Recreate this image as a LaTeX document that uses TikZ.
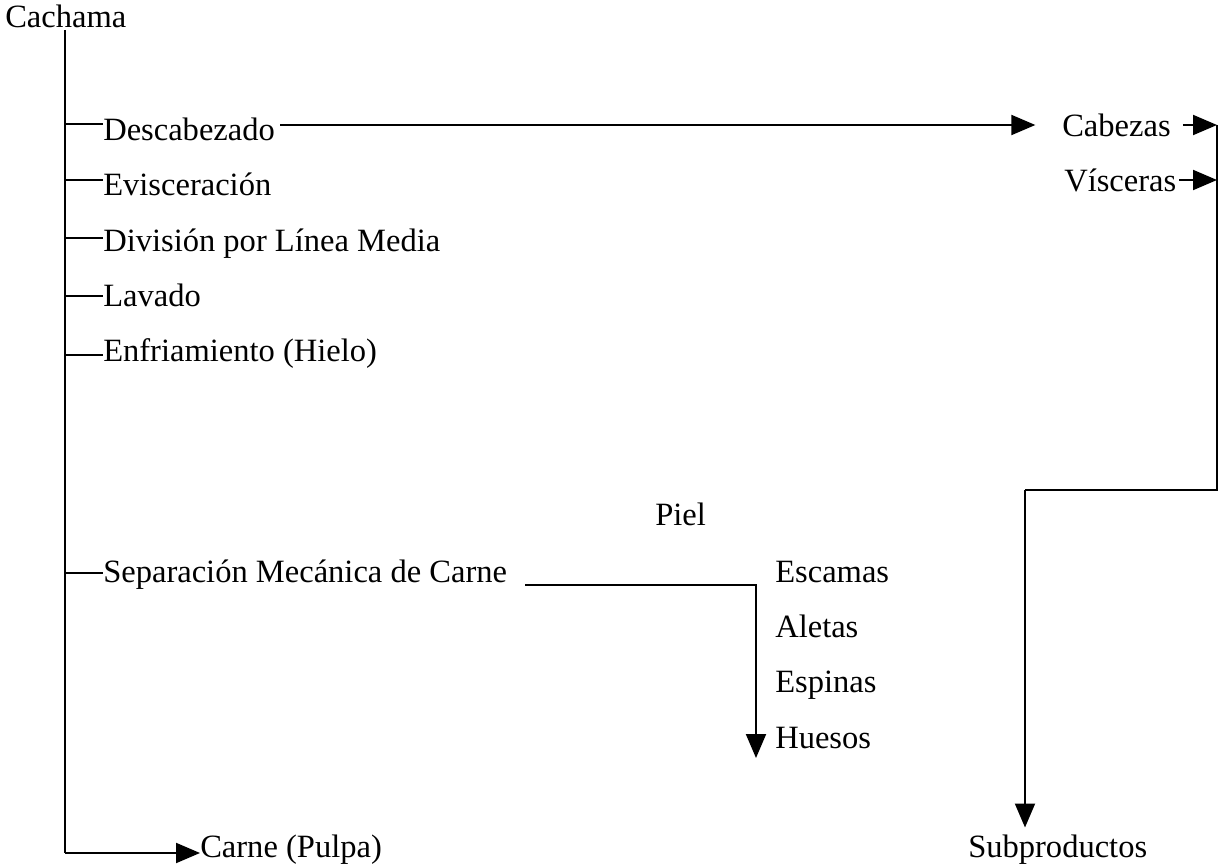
\documentclass[tikz,border=0pt]{standalone}
\usepackage{fontspec}
\setmainfont{Liberation Serif}
\usepackage{tikz}
\usetikzlibrary{arrows.meta}

\tikzset{
  lbl/.style={anchor=base west,inner sep=0pt,font=\fontsize{24.4pt}{29pt}\selectfont},
  ln/.style={line width=1.5pt},
  tip/.style={ln,-{Triangle[length=18pt,width=15pt]}}
}

\begin{document}
\begin{tikzpicture}[x=0.75pt,y=0.75pt,yscale=-1,xscale=1]
\useasboundingbox (0,0) rectangle (1225,867);

% Text Node
\node[lbl] (cach) at (5,28) {Cachama};
% Text Node
\node[lbl] (desc) at (103,140) {Descabezado};
% Text Node
\node[lbl] (evis) at (103,195) {Evisceración};
% Text Node
\node[lbl] (divi) at (103,251) {División por Línea Media};
% Text Node
\node[lbl] (lava) at (103,306) {Lavado};
% Text Node
\node[lbl] (enfr) at (103,361) {Enfriamiento (Hielo)};
% Text Node
\node[lbl] (sepa) at (103,582) {Separación Mecánica de Carne};
% Text Node
\node[lbl] (carn) at (200,857) {Carne (Pulpa)};
% Text Node
\node[lbl] (cabe) at (1062,137) {Cabezas};
% Text Node
\node[lbl] (visc) at (1064,191) {Vísceras};
% Text Node
\node[lbl] (piel) at (655,525) {Piel};
% Text Node
\node[lbl] (esca) at (775,582) {Escamas};
% Text Node
\node[lbl] (alet) at (775,637) {Aletas};
% Text Node
\node[lbl] (espi) at (775,692) {Espinas};
% Text Node
\node[lbl] (hues) at (775,748) {Huesos};
% Text Node
\node[lbl] (subp) at (968,857) {Subproductos};

%Points
\coordinate (top) at (65,30);
\coordinate (t1) at (65,124);
\coordinate (t2) at (65,180);
\coordinate (t3) at (65,238);
\coordinate (t4) at (65,296);
\coordinate (t5) at (65,355);
\coordinate (t6) at (65,573);
\coordinate (bot) at (65,853);
\coordinate (s1) at (525,585);
\coordinate (s2) at (756,585);
\coordinate (s3) at (756,758);
\coordinate (r1) at (1217,125);
\coordinate (r2) at (1217,490);
\coordinate (r3) at (1025,490);

%Straight Lines
\draw[ln] (top) -- (bot);
\draw[tip] (bot) -- (bot -| carn.west);
\draw[ln] (t1) -- (t1 -| desc.west);
\draw[ln] (t2) -- (t2 -| evis.west);
\draw[ln] (t3) -- (t3 -| divi.west);
\draw[ln] (t4) -- (t4 -| lava.west);
\draw[ln] (t5) -- (t5 -| enfr.west);
\draw[ln] (t6) -- (t6 -| sepa.west);

%Arrows
\draw[tip] ([xshift=4]desc.east |- r1) -- ([xshift=-20]cabe.west |- r1);
\draw[tip] ([xshift=9]cabe.east |- r1) -- (r1);
\draw[tip] ([xshift=2]visc.east |- 0,180) -- (r1 |- 0,180);
\draw[ln] (r1) -- (r2) -- (r3);
\draw[tip] (r3) -- ([yshift=-5]subp.north -| r3);
\draw[tip] (s1) -- (s2) -- (s3);

\end{tikzpicture}
\end{document}
